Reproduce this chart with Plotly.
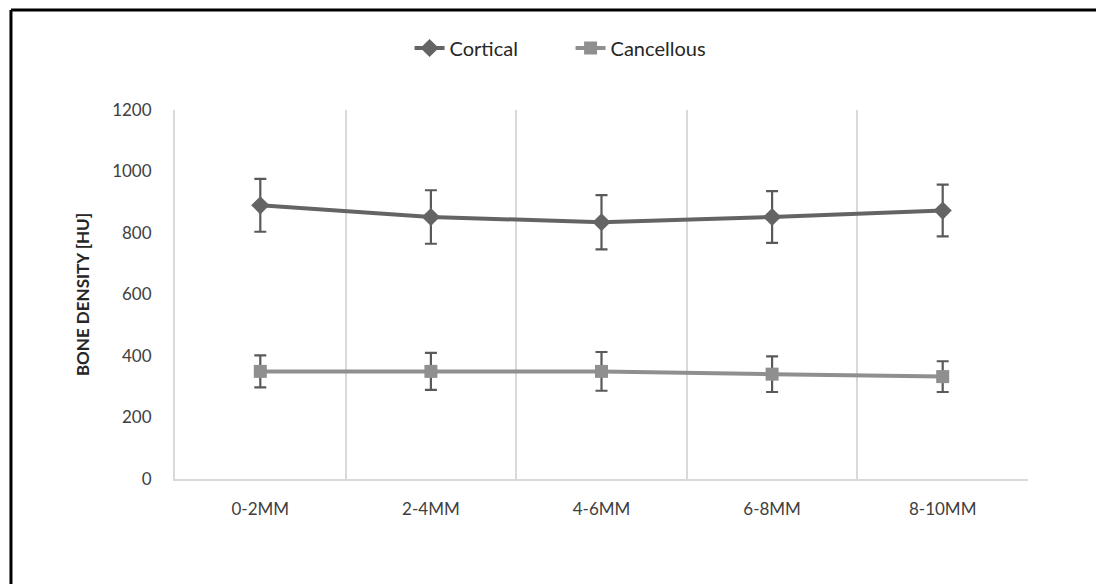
import plotly.graph_objects as go

categories = ["0-2MM", "2-4MM", "4-6MM", "6-8MM", "8-10MM"]
cortical = [890, 852, 835, 852, 873]
cortical_err = [86, 87, 88, 84, 84]
cancellous = [350, 350, 350, 341, 333]
cancellous_err = [52, 60, 63, 58, 50]
y_ticks = [0, 200, 400, 600, 800, 1000, 1200]

FONT = "Lato, 'Open Sans', sans-serif"

fig = go.Figure()
fig.add_trace(go.Scatter(
    x=categories, y=cortical, name="Cortical", mode="lines+markers",
    line=dict(color="#646464", width=4),
    marker=dict(symbol="diamond", size=14, color="#646464"),
    error_y=dict(type="data", array=cortical_err, visible=True,
                 color="#595959", thickness=2.2, width=6),
))
fig.add_trace(go.Scatter(
    x=categories, y=cancellous, name="Cancellous", mode="lines+markers",
    line=dict(color="#8f8f8f", width=4),
    marker=dict(symbol="square", size=13, color="#8f8f8f"),
    error_y=dict(type="data", array=cancellous_err, visible=True,
                 color="#595959", thickness=2.2, width=6),
))

fig.update_layout(
    width=1096, height=584,
    margin=dict(l=175, r=68, t=110, b=105),
    paper_bgcolor="white", plot_bgcolor="white",
    font=dict(family=FONT, size=16, color="#404040"),
    showlegend=True,
    legend=dict(orientation="h", x=0.275, xanchor="left", y=1.168, yanchor="middle",
                font=dict(size=20, color="#262626"), entrywidth=116, entrywidthmode="pixels",
                traceorder="normal"),
    modebar=dict(bgcolor="rgba(0,0,0,0)", color="rgba(0,0,0,0)", activecolor="rgba(0,0,0,0)"),
    xaxis=dict(type="category", range=[-0.5, 4.5], tickson="boundaries",
               showgrid=True, gridcolor="#d9d9d9", gridwidth=2,
               showline=True, linecolor="#d9d9d9", linewidth=2,
               ticks="", ticklabelstandoff=14,
               tickfont=dict(size=17, color="#404040"), zeroline=False),
    yaxis=dict(range=[0, 1200], tickvals=y_ticks, showgrid=False,
               showline=True, linecolor="#d9d9d9", linewidth=2,
               ticks="", ticklabelstandoff=18, zeroline=False,
               tickfont=dict(size=17, color="#404040"),
               title=dict(text="<b>BONE DENSITY [HU]</b>", font=dict(size=17, color="#262626"), standoff=18)),
    shapes=[
        dict(type="line", xref="paper", yref="paper", x0=-0.1923, x1=1.08, y0=1.271, y1=1.271,
             line=dict(color="black", width=3), layer="above"),
        dict(type="line", xref="paper", yref="paper", x0=-0.1923, x1=-0.1923, y0=-0.6, y1=1.271,
             line=dict(color="black", width=3), layer="above"),
    ],
)

fig.write_html("out.html", config={"displaylogo": False},
               post_script="document.body.style.margin='0';document.body.style.overflow='hidden';")
